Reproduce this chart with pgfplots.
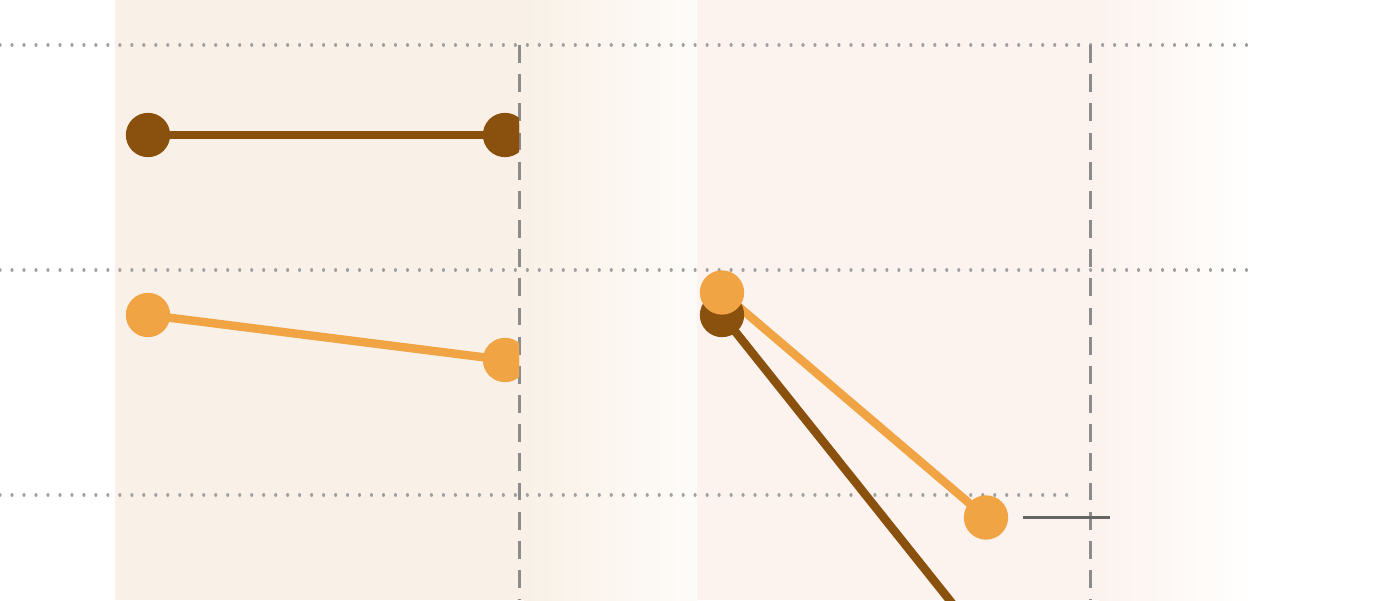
\documentclass[border=0pt]{standalone}
\usepackage{pgfplots}
\pgfplotsset{compat=1.18}
\definecolor{panelA}{HTML}{F9F1E7}
\definecolor{panelB}{HTML}{FCF3EE}
\definecolor{darkbrown}{HTML}{8A500D}
\definecolor{amber}{HTML}{F0A443}
\definecolor{gridgray}{HTML}{A0A0A0}
\definecolor{dashgray}{HTML}{8C8C8C}

% pixel x positions, y in grid units (gridlines at 0, 1, 2)
\pgfplotstableread{
x y
148 1.6
505 1.6
}\leftdark
\pgfplotstableread{
x y
148 0.8
505 0.6
}\leftlight
\pgfplotstableread{
x y
722 0.80
986 -0.67
}\rightdark
\pgfplotstableread{
x y
722 0.90
986 -0.10
}\rightlight

\pgfplotsset{
  panel/.style={scale only axis, height=6cm, hide axis, ymin=-0.4667, ymax=2.2},
  dotgrid/.style={gridgray, line width=0.9pt, line cap=round, dash pattern=on 0.01pt off 3.4pt},
  vdash/.style={dashgray, line width=0.85pt, dash pattern=on 5.1pt off 3.2pt},
  series/.style={line width=2.4pt, mark=*, mark size=5.1pt, mark options={solid}},
}

\begin{document}
\begin{tikzpicture}
\begin{axis}[panel, width=14cm, xmin=0, xmax=1400]
  \path (rel axis cs:0,0) rectangle (rel axis cs:1,1);
  % panel backgrounds
  \fill[panelA] (axis cs:115,-0.4667) rectangle (axis cs:525,2.2);
  \shade[left color=panelA, right color=white!75!panelA] (axis cs:524,-0.4667) rectangle (axis cs:697,2.2);
  \fill[panelB] (axis cs:697,-0.4667) rectangle (axis cs:1100,2.2);
  \shade[left color=panelB, right color=white] (axis cs:1099,-0.4667) rectangle (axis cs:1255,2.2);
  % gridlines
  \addplot[dotgrid] coordinates {(0,2) (1258,2)};
  \addplot[dotgrid] coordinates {(0,1) (1258,1)};
  \addplot[dotgrid] coordinates {(0,0) (1070,0)};
  % vertical reference lines
  \addplot[vdash] coordinates {(519,2) (519,-0.4667)};
  \addplot[vdash] coordinates {(1090,2) (1090,-0.4667)};
  % right panel
  \addplot[series, darkbrown] table {\rightdark};
  \addplot[series, amber] table {\rightlight};
  \addplot[black!60, line width=0.7pt] coordinates {(1023,-0.10) (1110,-0.10)};
\end{axis}
\begin{axis}[panel, width=5.19cm, xmin=0, xmax=519, clip marker paths=true]
  \addplot[series, darkbrown] table {\leftdark};
  \addplot[series, amber] table {\leftlight};
\end{axis}
\end{tikzpicture}
\end{document}
